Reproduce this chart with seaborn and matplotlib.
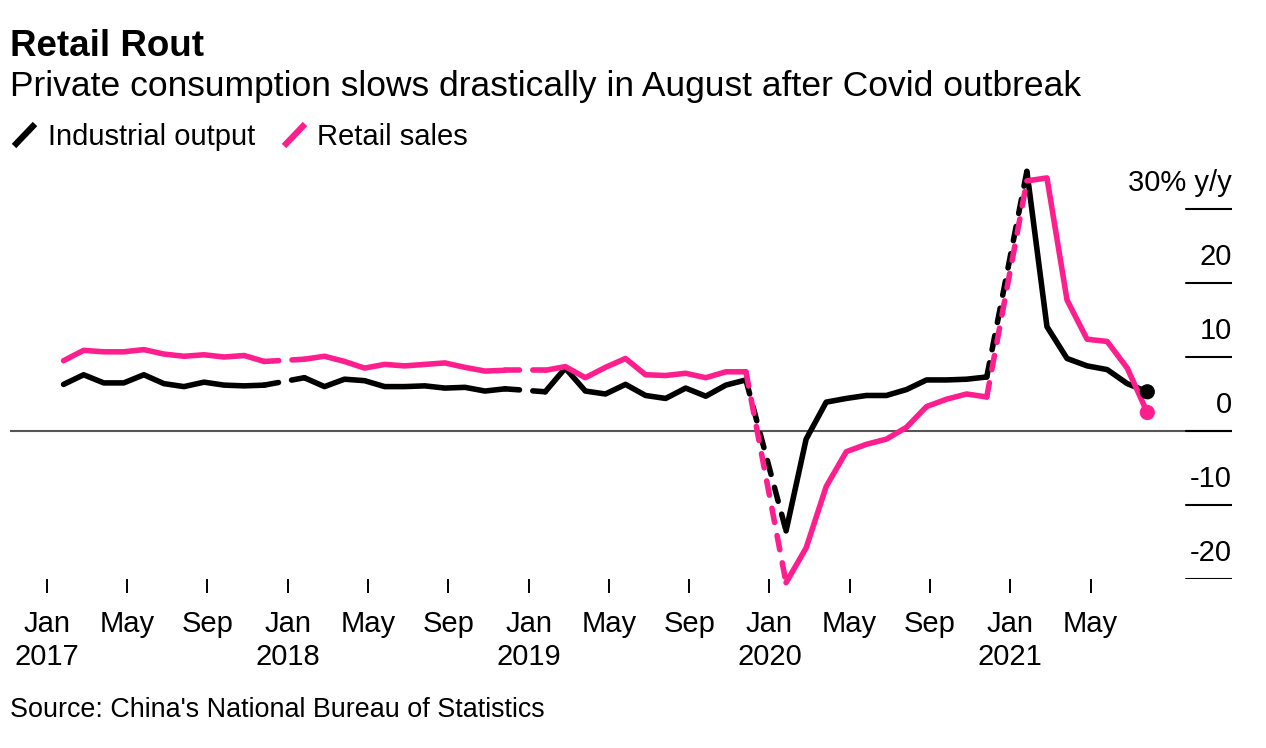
import matplotlib
matplotlib.use("Agg")
import matplotlib.pyplot as plt
import matplotlib.transforms as mtransforms
from matplotlib.lines import Line2D
import numpy as np
import pandas as pd
import seaborn as sns

# ── Data: y/y growth, Feb 2017 .. Aug 2021 (January is folded into Jan-Feb -> NaN)
MONTHS = pd.date_range("2017-02-01", "2021-08-01", freq="MS")
NAN = np.nan
INDUSTRIAL = [
    6.3, 7.6, 6.5, 6.5, 7.6, 6.4, 6.0, 6.6, 6.2, 6.1, 6.2,
    NAN, 7.2, 6.0, 7.0, 6.8, 6.0, 6.0, 6.1, 5.8, 5.9, 5.4, 5.7,
    NAN, 5.3, 8.5, 5.4, 5.0, 6.3, 4.8, 4.4, 5.8, 4.7, 6.2, 6.9,
    NAN, -13.5, -1.1, 3.9, 4.4, 4.8, 4.8, 5.6, 6.9, 6.9, 7.0, 7.3,
    NAN, 35.1, 14.1, 9.8, 8.8, 8.3, 6.4, 5.3,
]
RETAIL = [
    9.5, 10.9, 10.7, 10.7, 11.0, 10.4, 10.1, 10.3, 10.0, 10.2, 9.4,
    NAN, 9.7, 10.1, 9.4, 8.5, 9.0, 8.8, 9.0, 9.2, 8.6, 8.1, 8.2,
    NAN, 8.2, 8.7, 7.2, 8.6, 9.8, 7.6, 7.5, 7.8, 7.2, 8.0, 8.0,
    NAN, -20.5, -15.8, -7.5, -2.8, -1.8, -1.1, 0.5, 3.3, 4.3, 5.0, 4.6,
    NAN, 33.8, 34.2, 17.7, 12.4, 12.1, 8.5, 2.5,
]
SERIES = ["Industrial output", "Retail sales"]
COLORS = ["#000000", "#fe1e8d"]

TICK_MONTHS = pd.date_range("2017-01-01", "2021-05-01", freq="4MS")
Y_TICKS = [-20, -10, 0, 10, 20, 30]
Y_LABELS = ["-20", "-10", "0", "10", "20", "30% y/y"]

TITLE = "Retail Rout"
SUBTITLE = "Private consumption slows drastically in August after Covid outbreak"
SOURCE = "Source: China's National Bureau of Statistics"


def month_index(dates):
    return np.array([(d.year - 2017) * 12 + d.month - 1 for d in dates], float)


def runs(values):
    """Split into contiguous non-NaN runs; dashed bridges join them."""
    vals = np.asarray(values, float)
    solid, cur = [], []
    for i, v in enumerate(vals):
        if np.isnan(v):
            if cur:
                solid.append(cur)
                cur = []
        else:
            cur.append(i)
    if cur:
        solid.append(cur)
    bridges = [[a[-1], b[0]] for a, b in zip(solid[:-1], solid[1:])]
    return solid, bridges


def main() -> None:
    sns.set_theme(style="white")
    plt.rcParams["font.family"] = ["Liberation Sans", "DejaVu Sans"]
    plt.rcParams["text.color"] = "black"
    plt.rcParams["xtick.color"] = "black"
    plt.rcParams["xtick.labelcolor"] = "black"

    W, H = 1266, 748
    fig = plt.figure(figsize=(W / 100, H / 100), dpi=100)
    ax = fig.add_axes([10 / W, 1 - 579 / H, 1222 / W, (579 - 164.6) / H])

    x = month_index(MONTHS)
    lw = 4.0
    for name, vals, color in zip(SERIES, [INDUSTRIAL, RETAIL], COLORS):
        vals = np.asarray(vals, float)
        solid, bridges = runs(vals)
        for idx in solid:
            sns.lineplot(x=x[idx], y=vals[idx], ax=ax, color=color, lw=lw,
                         sort=False, estimator=None, clip_on=False,
                         solid_capstyle="round", solid_joinstyle="round")
        for idx in bridges:
            sns.lineplot(x=x[idx], y=vals[idx], ax=ax, color=color, lw=lw,
                         sort=False, estimator=None, clip_on=False,
                         linestyle=(0, (2.6, 2.4)), dash_capstyle="round")
        sns.scatterplot(x=x[-1:], y=vals[-1:], ax=ax, color=color, s=120,
                        edgecolor="none", zorder=5, clip_on=False)

    ax.set_xlim(-1.669, 59.22)
    ax.set_ylim(-20, 36)

    # zero line across, short tick rules on the right
    ax.axhline(0, color="#555555", lw=1.5, zorder=1)
    blend = mtransforms.blended_transform_factory(ax.transAxes, ax.transData)
    for v, lab in zip(Y_TICKS, Y_LABELS):
        ax.axhline(v, xmin=1 - 46 / 1222, xmax=1, color="black", lw=1.5, zorder=2)
        ax.annotate(lab, xy=(1, v), xycoords=blend, xytext=(0, 13),
                    textcoords="offset points", ha="right", va="baseline",
                    fontsize=21, color="black")

    # x ticks
    tick_x = month_index(TICK_MONTHS) + 0.17
    tick_labels = [f"Jan\n{d.year}" if d.month == 1 else d.strftime("%b")
                   for d in TICK_MONTHS]
    ax.set_xticks(tick_x)
    ax.set_xticklabels(tick_labels, fontsize=21, linespacing=1.25, va="top")
    ax.tick_params(axis="x", direction="out", length=10, width=1.4,
                   color="black", labelcolor="black", pad=12, bottom=True)
    ax.set_yticks([])
    for s in ax.spines.values():
        s.set_visible(False)
    ax.set_xlabel("")
    ax.set_ylabel("")

    # titles
    fig.text(10 / W, 1 - 56 / H, TITLE, fontsize=26.5, fontweight="bold",
             ha="left", va="baseline")
    fig.text(10 / W, 1 - 96 / H, SUBTITLE, fontsize=25.5, ha="left", va="baseline")

    # legend: slashes + labels
    for (x0, x1), color in zip([(14, 35), (284, 305)], COLORS):
        fig.add_artist(Line2D([x0 / W, x1 / W], [1 - 146 / H, 1 - 124 / H],
                              color=color, lw=4.5, solid_capstyle="butt"))
    fig.text(48 / W, 1 - 145 / H, SERIES[0], fontsize=21, ha="left", va="baseline")
    fig.text(317 / W, 1 - 145 / H, SERIES[1], fontsize=21, ha="left", va="baseline")

    fig.text(10 / W, 1 - 717 / H, SOURCE, fontsize=19.4, ha="left", va="baseline")

    fig.savefig("out.png", dpi=100)
    plt.close(fig)


if __name__ == "__main__":
    main()
